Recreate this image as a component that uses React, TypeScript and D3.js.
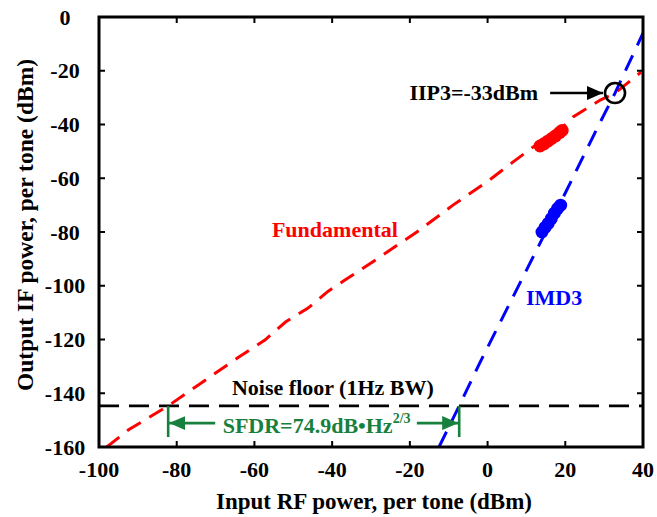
import React from "react";
import * as d3 from "d3";

// Two-tone linearity measurement: fundamental and third-order intermod output vs. input power
const fundX = [-98, -92.5, -86, -82.2, -76, -70, -64, -57.3, -52, -46.2, -41, -36.7, -27.7, -18.2, -8.9, -0.2, 6.5, 11.7, 17, 22, 29, 32.8, 39.5];
const fundY = [-160, -153.7, -148, -144.7, -138.5, -132.5, -126.5, -120.2, -113.5, -108.3, -102, -97.9, -89.3, -80, -70, -61.4, -54, -48.4, -44.5, -37.2, -30.9, -28.3, -20.5];

const imdX = [-12.5, -7.3, -2, 4.5, 13, 20, 28.4, 32.8, 40];
const imdY = [-160, -144.7, -128.7, -110, -85.6, -65.5, -40.8, -28.3, -6];

// Measured points (overlapping markers)
const fundMeasX = [13.5, 14.5, 15.5, 16.5, 17.5, 18.5, 19.2];
const fundMeasY = [-48, -47.2, -46.2, -45.2, -44.2, -43, -42.2];
const imdMeasX = [14, 14.8, 15.6, 16.4, 17.2, 18, 18.8];
const imdMeasY = [-80, -78.3, -76.8, -75, -73, -71.3, -70];

const noiseFloor = -144.7;
const sfdrLeft = -82.2;
const sfdrRight = -7.3;
const iip3 = { x: 32.8, y: -28.3 };

const xTicks = [-100, -80, -60, -40, -20, 0, 20, 40];
const yTicks = [0, -20, -40, -60, -80, -100, -120, -140, -160];

const W = 657;
const H = 517;
const FONT = "'Liberation Serif', 'Times New Roman', serif";

export default function App() {
  const x = d3.scaleLinear().domain([-100, 40]).range([99, 643]);
  const y = d3.scaleLinear().domain([-160, 0]).range([447, 17]);
  const [x0, x1] = x.range();
  const [y1, y0] = y.range();

  const path = (xs: number[], ys: number[]) =>
    d3
      .line<number>()
      .x((d) => x(d))
      .y((_, i) => y(ys[i]))(xs) as string;

  const green = "#17803d";
  const arrowY = -151.1;
  const vBottom = -156.3;

  return (
    <svg
      width={W}
      height={H}
      viewBox={`0 0 ${W} ${H}`}
      style={{ position: "absolute", left: 0, top: 0, background: "#fff" }}
      fontFamily={FONT}
      fontWeight="bold"
    >
      <defs>
        <clipPath id="plot">
          <rect x={x0} y={y0} width={x1 - x0} height={y1 - y0} />
        </clipPath>
        <marker id="arrG" viewBox="0 0 16 14" refX="16" refY="7" markerWidth="16" markerHeight="14" markerUnits="userSpaceOnUse" orient="auto">
          <path d="M0,0 L16,7 L0,14 Z" fill={green} />
        </marker>
        <marker id="arrK" viewBox="0 0 16 14" refX="16" refY="7" markerWidth="16" markerHeight="14" markerUnits="userSpaceOnUse" orient="auto">
          <path d="M0,0 L16,7 L0,14 Z" fill="#000" />
        </marker>
      </defs>

      <g clipPath="url(#plot)">
        {/* noise floor */}
        <line x1={x0} x2={x1} y1={y(noiseFloor)} y2={y(noiseFloor)} stroke="#000" strokeWidth={2.8} strokeDasharray="20 10" />
        {/* fundamental */}
        <path d={path(fundX, fundY)} fill="none" stroke="#ff0000" strokeWidth={3} strokeDasharray="16 10" />
        {/* IMD3 */}
        <path d={path(imdX, imdY)} fill="none" stroke="#0000ff" strokeWidth={3} strokeDasharray="17 11" />
        {fundMeasX.map((v, i) => (
          <circle key={"f" + i} cx={x(v)} cy={y(fundMeasY[i])} r={6.5} fill="#ff0000" />
        ))}
        {imdMeasX.map((v, i) => (
          <circle key={"m" + i} cx={x(v)} cy={y(imdMeasY[i])} r={6.5} fill="#0000ff" />
        ))}
      </g>

      {/* IIP3 marker */}
      <circle cx={x(iip3.x)} cy={y(iip3.y)} r={10} fill="none" stroke="#000" strokeWidth={2.6} />
      <line x1={x(16.1)} x2={x(iip3.x) - 12} y1={y(iip3.y)} y2={y(iip3.y)} stroke="#000" strokeWidth={2.6} markerEnd="url(#arrK)" />
      <text x={x(13)} y={y(-30.9)} fontSize={22} textAnchor="end">IIP3=-33dBm</text>

      {/* SFDR annotation */}
      <line x1={x(sfdrLeft)} x2={x(sfdrLeft)} y1={y(noiseFloor)} y2={y(vBottom)} stroke={green} strokeWidth={2.6} />
      <line x1={x(sfdrRight)} x2={x(sfdrRight)} y1={y(noiseFloor)} y2={y(vBottom)} stroke={green} strokeWidth={2.6} />
      <line x1={x(-70.1)} x2={x(sfdrLeft) + 1} y1={y(arrowY)} y2={y(arrowY)} stroke={green} strokeWidth={2.6} markerEnd="url(#arrG)" />
      <line x1={x(-18.2)} x2={x(sfdrRight) - 1} y1={y(arrowY)} y2={y(arrowY)} stroke={green} strokeWidth={2.6} markerEnd="url(#arrG)" />
      <text x={x(-44)} y={y(arrowY) + 10} fontSize={22} fill={green} textAnchor="middle">
        SFDR=74.9dB•Hz<tspan fontSize={14} dy={-10}>2/3</tspan>
      </text>

      <text x={x(-39.8)} y={y(-140.7)} fontSize={22} textAnchor="middle">Noise floor (1Hz BW)</text>
      <text x={x(-55.5)} y={y(-81.9)} fontSize={22} fill="#ff0000">Fundamental</text>
      <text x={x(9.9)} y={y(-107.2)} fontSize={22} fill="#0000ff">IMD3</text>

      {/* ticks on all four sides, pointing inward */}
      {xTicks.map((t) => (
        <g key={"xt" + t}>
          <line x1={x(t)} x2={x(t)} y1={y1} y2={y1 - 6} stroke="#000" strokeWidth={2} />
          <line x1={x(t)} x2={x(t)} y1={y0} y2={y0 + 6} stroke="#000" strokeWidth={2} />
          <text x={x(t)} y={477} fontSize={22} textAnchor="middle">{t}</text>
        </g>
      ))}
      {yTicks.map((t) => (
        <g key={"yt" + t}>
          <line x1={x0} x2={x0 + 6} y1={y(t)} y2={y(t)} stroke="#000" strokeWidth={2} />
          <line x1={x1} x2={x1 - 6} y1={y(t)} y2={y(t)} stroke="#000" strokeWidth={2} />
          <text x={65} y={y(t) + 7.5} fontSize={22} textAnchor="middle">{t}</text>
        </g>
      ))}

      <rect x={x0} y={y0} width={x1 - x0} height={y1 - y0} fill="none" stroke="#000" strokeWidth={3} />

      <text x={374} y={509} fontSize={23} textAnchor="middle">Input RF power, per tone (dBm)</text>
      <text transform={`translate(33, 225) rotate(-90)`} fontSize={23.5} textAnchor="middle">
        Output IF power, per tone (dBm)
      </text>
    </svg>
  );
}
